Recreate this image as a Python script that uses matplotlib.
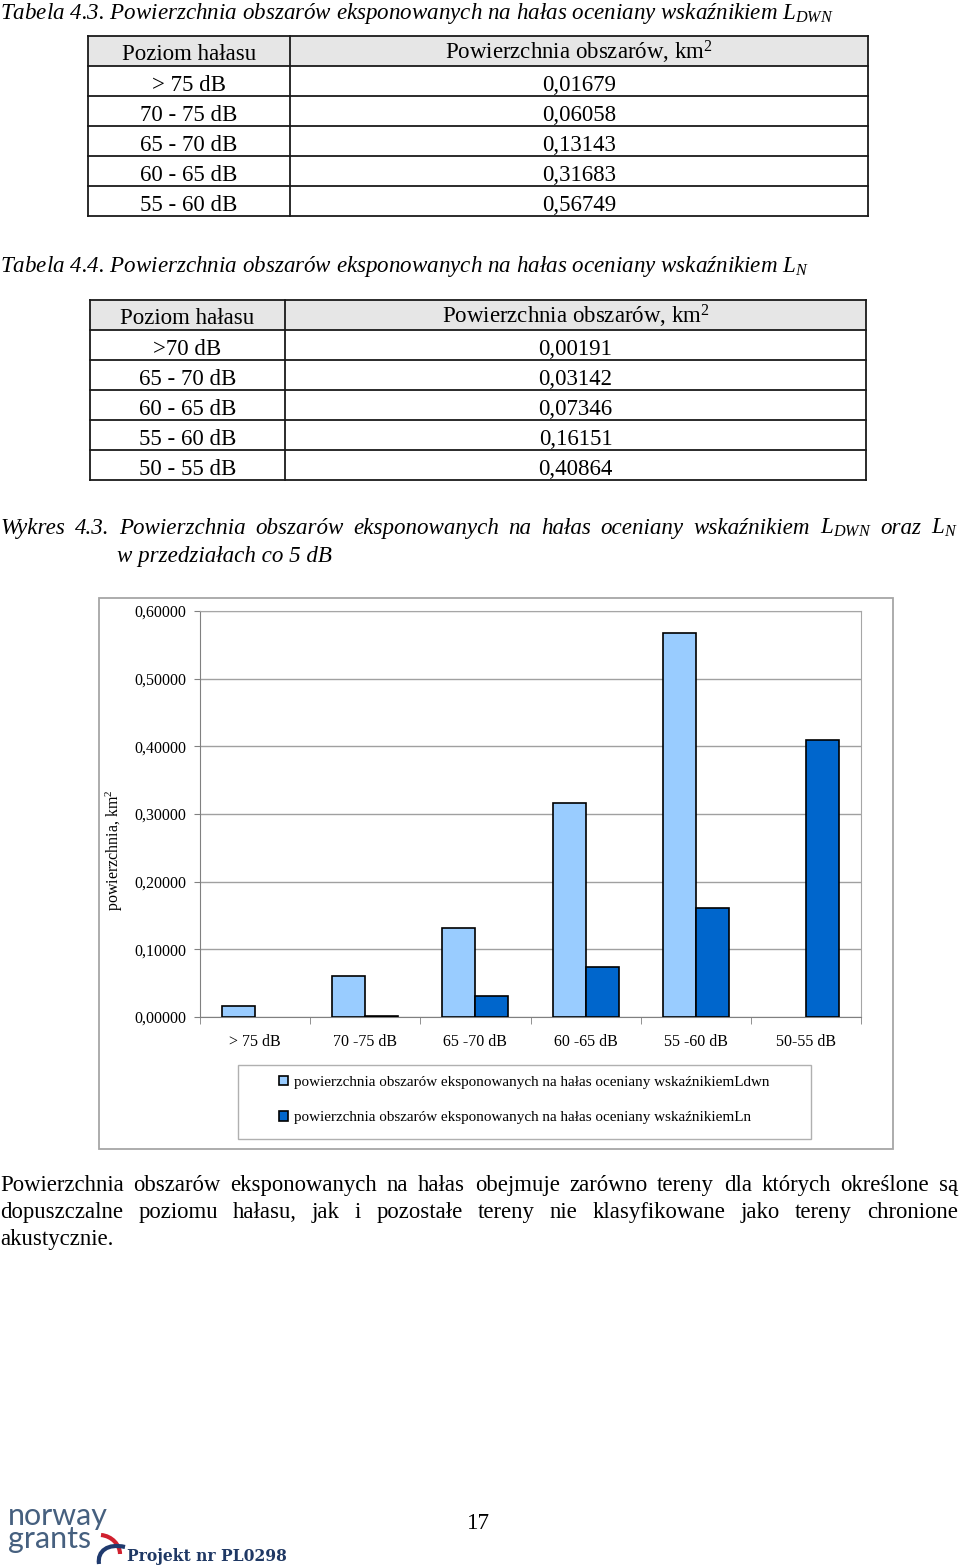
import matplotlib
matplotlib.use("Agg")
import numpy as np
import matplotlib.pyplot as plt
from matplotlib.patches import Rectangle, PathPatch
from matplotlib.path import Path
from matplotlib.ticker import FuncFormatter, FixedLocator

plt.rcParams['font.family'] = ['Liberation Serif', 'DejaVu Serif']
plt.rcParams['mathtext.fontset'] = 'custom'
plt.rcParams['mathtext.rm'] = 'Liberation Serif'
plt.rcParams['mathtext.it'] = 'Liberation Serif:italic'
plt.rcParams['mathtext.bf'] = 'Liberation Serif:bold'

# --- dane ---
poziom_ldwn = ["> 75 dB", "70 - 75 dB", "65 - 70 dB", "60 - 65 dB", "55 - 60 dB"]
pow_ldwn = [0.01679, 0.06058, 0.13143, 0.31683, 0.56749]
poziom_ln = [">70 dB", "65 - 70 dB", "60 - 65 dB", "55 - 60 dB", "50 - 55 dB"]
pow_ln = [0.00191, 0.03142, 0.07346, 0.16151, 0.40864]
kategorie = ["> 75 dB", "70 -75 dB", "65 -70 dB", "60 -65 dB", "55 -60 dB", "50-55 dB"]
seria_ldwn = pow_ldwn + [np.nan]
seria_ln = [np.nan] + pow_ln
legenda = ["powierzchnia obszarów eksponowanych na hałas oceniany wskaźnikiemLdwn",
           "powierzchnia obszarów eksponowanych na hałas oceniany wskaźnikiemLn"]

W, H = 960, 1568
fig = plt.figure(figsize=(9.6, 15.68), dpi=100)
fig.patch.set_facecolor("white")
r = fig.canvas.get_renderer()


def fx(x):
    return x / W


def fy(y):
    return 1 - y / H


def txt(x, y, s, size, ha="left", va="baseline", **kw):
    return fig.text(fx(x), fy(y), s, fontsize=size, ha=ha, va=va, **kw)


def width(t):
    return t.get_window_extent(renderer=r).width


def fit_size(s, target, **kw):
    t = fig.text(0, 0, s, fontsize=20, **kw)
    w = width(t)
    t.remove()
    return 20 * target / w


def justify(words, x0, x1, y, size, **kw):
    ts = [txt(x0, y, w, size, **kw) for w in words]
    ws = [width(t) for t in ts]
    gap = (x1 - x0 - sum(ws)) / (len(ws) - 1)
    x = x0
    for t, w in zip(ts, ws):
        t.set_x(fx(x))
        x += w + gap


def rect(x0, y0, x1, y1, **kw):
    fig.add_artist(Rectangle((fx(x0), fy(y1)), (x1 - x0) / W, (y1 - y0) / H,
                             transform=fig.transFigure, **kw))


def hline(x0, x1, y, **kw):
    fig.add_artist(plt.Line2D([fx(x0), fx(x1)], [fy(y), fy(y)], transform=fig.transFigure, **kw))


def vline(x, y0, y1, **kw):
    fig.add_artist(plt.Line2D([fx(x), fx(x)], [fy(y0), fy(y1)], transform=fig.transFigure, **kw))


def fmt(v):
    return f"{v:.5f}".replace(".", ",")


# --- tabele ---
cap_size = fit_size("Tabela 4.3. Powierzchnia obszarów eksponowanych na hałas oceniany wskaźnikiem $L_{DWN}$",
                    835, style="italic")
tab_size = fit_size("Powierzchnia obszarów, km$^{2}$", 268)


def tabela(caption, cap_y, x0, xm, x1, y0, poziomy, wartosci):
    txt(0, cap_y, caption, cap_size, style="italic")
    rh = 30
    rect(x0, y0, x1, y0 + rh, facecolor="#e6e6e6", edgecolor="none", zorder=-2)
    for i in range(len(poziomy) + 2):
        hline(x0, x1, y0 + i * rh, color="#1a1a1a", lw=1.3)
    for x in (x0, xm, x1):
        vline(x, y0, y0 + rh * (len(poziomy) + 1), color="#1a1a1a", lw=1.3)
    txt((x0 + xm) / 2, y0 + 24, "Poziom hałasu", tab_size, ha="center")
    txt((xm + x1) / 2, y0 + 24, "Powierzchnia obszarów, km$^{2}$", tab_size, ha="center")
    for i, (p, v) in enumerate(zip(poziomy, wartosci)):
        yb = y0 + rh * (i + 1) + 25
        txt((x0 + xm) / 2, yb, p, tab_size, ha="center")
        txt((xm + x1) / 2, yb, fmt(v), tab_size, ha="center")


tabela("Tabela 4.3. Powierzchnia obszarów eksponowanych na hałas oceniany wskaźnikiem $L_{DWN}$",
       19, 88, 290, 868, 36, poziom_ldwn, pow_ldwn)
tabela("Tabela 4.4. Powierzchnia obszarów eksponowanych na hałas oceniany wskaźnikiem $L_{N}$",
       272, 90, 285, 866, 300, poziom_ln, pow_ln)

# --- podpis wykresu ---
justify(["Wykres", "4.3.", "Powierzchnia", "obszarów", "eksponowanych", "na", "hałas",
         "oceniany", "wskaźnikiem", "$L_{DWN}$", "oraz", "$L_{N}$"],
        0, 958, 534, cap_size, style="italic")
txt(117, 562, "w przedziałach co 5 dB", cap_size, style="italic")

# --- wykres ---
rect(99, 598, 893, 1149, facecolor="white", edgecolor="#a6a6a6", lw=1.3, zorder=-2)
ax = fig.add_axes([fx(200), fy(1017), (861 - 200) / W, (1017 - 611) / H])
ax.patch.set_alpha(0)
x = np.arange(len(kategorie))
ax.bar(x - 0.15, seria_ldwn, width=0.3, color="#99CCFF", edgecolor="black", lw=1.2,
       label=legenda[0], zorder=3)
ax.bar(x + 0.15, seria_ln, width=0.3, color="#0066CC", edgecolor="black", lw=1.2,
       label=legenda[1], zorder=3)
ax.set_xlim(-0.5, len(kategorie) - 0.5)
ax.set_ylim(0, 0.6)
ax.set_yticks(np.arange(0, 0.61, 0.1))
ax.yaxis.set_major_formatter(FuncFormatter(lambda v, p: fmt(v)))
ax.yaxis.grid(True, color="#a0a0a0", lw=1, zorder=0)
ax.set_axisbelow(True)
ax.set_xticks(x)
ax.set_xticklabels(kategorie)
ax.xaxis.set_minor_locator(FixedLocator(np.arange(-0.5, len(kategorie), 1.0)))
ax.tick_params(axis="x", which="major", length=0, labelsize=11.5, pad=12)
ax.tick_params(axis="x", which="minor", length=5, color="#808080")
ax.tick_params(axis="y", length=4, color="#808080", labelsize=11.5, pad=6)
for s in ("left", "bottom"):
    ax.spines[s].set_color("#808080")
for s in ("top", "right"):
    ax.spines[s].set_color("#a6a6a6")
txt(114, 850, "powierzchnia, km$^{2}$", 11.5, ha="center", va="center", rotation=90)

rect(238, 1065, 811, 1139, facecolor="white", edgecolor="#b0b0b0", lw=1, zorder=-1)
h, l = ax.get_legend_handles_labels()
fig.legend(h, l, loc="center left", bbox_to_anchor=(fx(265), fy(1100)), frameon=False,
           fontsize=10.9, handlelength=0.6, handleheight=0.6, handletextpad=0.4,
           labelspacing=1.5)

# --- tekst ---
body = fit_size("akustycznie.", 113)
justify("Powierzchnia obszarów eksponowanych na hałas obejmuje zarówno tereny dla których określone są".split(),
        0, 958, 1191, body)
justify("dopuszczalne poziomu hałasu, jak i pozostałe tereny nie klasyfikowane jako tereny chronione".split(),
        0, 958, 1218, body)
txt(0, 1245, "akustycznie.", body)

# --- stopka ---
logo_c = "#46607f"
ls = fit_size("norway", 100, family="Lato")
txt(8, 1553, "norway\ngrants", ls, family="Lato", color=logo_c, linespacing=0.78, va="bottom")
red = Path([(fx(101), fy(1535)), (fx(112), fy(1536)), (fx(120), fy(1545)), (fx(120), fy(1554))],
           [Path.MOVETO, Path.CURVE4, Path.CURVE4, Path.CURVE4])
blue = Path([(fx(99), fy(1564)), (fx(97), fy(1551)), (fx(108), fy(1543)), (fx(125), fy(1547))],
            [Path.MOVETO, Path.CURVE4, Path.CURVE4, Path.CURVE4])
fig.add_artist(PathPatch(red, facecolor="none", edgecolor="#d0202e", lw=3, transform=fig.transFigure))
fig.add_artist(PathPatch(blue, facecolor="none", edgecolor="#1f3a6e", lw=3, transform=fig.transFigure))
ps = fit_size("Projekt nr PL0298", 160, family="DejaVu Serif", weight="bold")
txt(127, 1561, "Projekt nr PL0298", ps, family="DejaVu Serif", weight="bold", color="#1f3864")
txt(478, 1529, "17", fit_size("17", 23), ha="center")

fig.savefig("out.png", dpi=100)
